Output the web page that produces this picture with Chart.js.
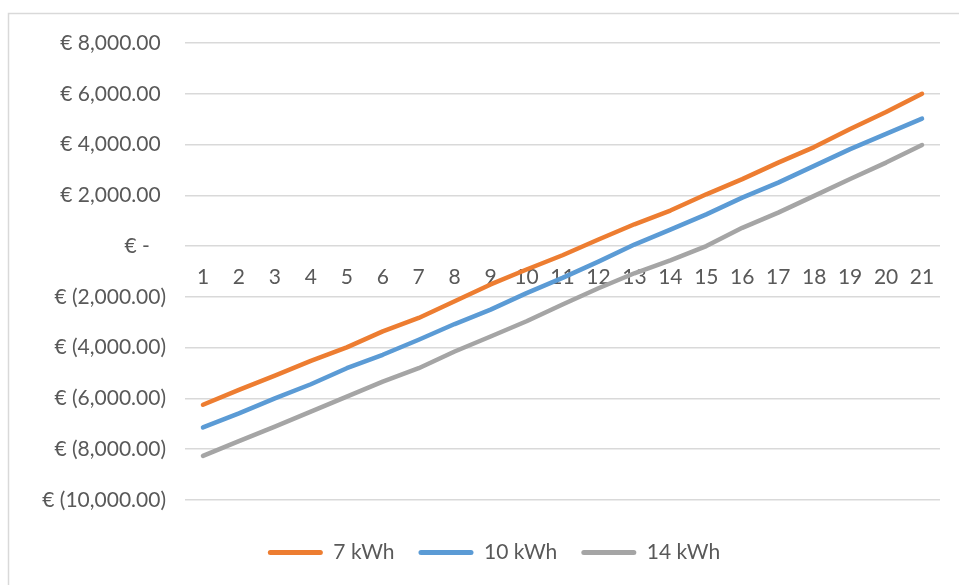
<!DOCTYPE html>
<html>
<head>
<meta charset="utf-8">
<script src="https://cdn.jsdelivr.net/npm/chart.js@4.4.1/dist/chart.umd.min.js"></script>
<style>
  html, body { margin: 0; padding: 0; background: #ffffff; }
  #wrap { position: relative; width: 959px; height: 585px; }
</style>
</head>
<body>
<div id="wrap"><canvas id="c" width="959" height="585"></canvas></div>
<script>
const categories = ['1','2','3','4','5','6','7','8','9','10','11','12','13','14','15','16','17','18','19','20','21'];
const seriesNames = ['7 kWh', '10 kWh', '14 kWh'];
const values7 = [-6250, -5660, -5100, -4520, -3990, -3360, -2830, -2170, -1510, -920, -360, 260, 860, 1400, 2040, 2640, 3290, 3900, 4610, 5280, 6000];
const values10 = [-7140, -6590, -6000, -5440, -4810, -4280, -3690, -3070, -2500, -1850, -1250, -610, 60, 650, 1250, 1910, 2500, 3160, 3820, 4420, 5020];
const values14 = [-8260, -7680, -7110, -6520, -5930, -5340, -4810, -4150, -3560, -2960, -2300, -1660, -1070, -560, 0, 720, 1320, 1980, 2640, 3290, 3980];
const yTickValues = [8000, 6000, 4000, 2000, 0, -2000, -4000, -6000, -8000, -10000];
const yTickLabels = ['€ 8,000.00 ', '€ 6,000.00 ', '€ 4,000.00 ', '€ 2,000.00 ', '€ -   ', '€ (2,000.00)', '€ (4,000.00)', '€ (6,000.00)', '€ (8,000.00)', '€ (10,000.00)'];
const colors = ['#ED7D31', '#5B9BD5', '#A5A5A5'];

const textColor = '#595959';
const fontFamily = 'Lato, "Open Sans", sans-serif';

const frame = {
  id: 'frame',
  beforeDraw(chart) {
    const ctx = chart.ctx;
    ctx.save();
    ctx.fillStyle = '#ffffff';
    ctx.fillRect(0, 0, chart.width, chart.height);
    ctx.strokeStyle = '#d9d9d9';
    ctx.lineWidth = 1.5;
    ctx.strokeRect(8.5, 13.5, 965, 590);
    ctx.restore();
  }
};

const legendShift = {
  id: 'legendShift',
  afterLayout(chart) {
    if (chart.legend) {
      chart.legend.left += 48;
    }
  }
};

const allSeries = [values7, values10, values14];

new Chart(document.getElementById('c'), {
  type: 'line',
  data: {
    labels: categories,
    datasets: allSeries.map((vals, i) => ({
      label: seriesNames[i],
      data: vals,
      borderColor: colors[i],
      backgroundColor: colors[i],
      borderWidth: 4.5,
      pointRadius: 0,
      pointHoverRadius: 0,
      tension: 0,
      borderCapStyle: 'round',
      borderJoinStyle: 'round',
      fill: false
    }))
  },
  options: {
    responsive: false,
    animation: false,
    devicePixelRatio: 1,
    layout: { padding: { left: 0, right: 19, top: 43, bottom: 12 } },
    scales: {
      x: {
        type: 'category',
        position: { y: 0 },
        offset: true,
        grid: { display: false, drawTicks: false },
        border: { display: false },
        ticks: {
          color: textColor,
          font: { family: fontFamily, size: 21 },
          padding: 19,
          maxRotation: 0,
          minRotation: 0,
          autoSkip: false
        }
      },
      y: {
        min: -10000,
        max: 8000,
        afterBuildTicks(scale) {
          scale.ticks = yTickValues.map(v => ({ value: v }));
        },
        afterFit(scale) { scale.width = 185; },
        grid: { color: '#d9d9d9', lineWidth: 1.5, drawTicks: false },
        border: { display: false },
        ticks: {
          color: textColor,
          font: { family: fontFamily, size: 21 },
          padding: 19,
          callback(value) {
            const idx = yTickValues.indexOf(value);
            return idx >= 0 ? yTickLabels[idx] : '';
          }
        }
      }
    },
    plugins: {
      tooltip: { enabled: false },
      legend: {
        position: 'bottom',
        title: { display: true, text: '', font: { size: 10 }, padding: { top: 3, bottom: 3 } },
        labels: {
          color: textColor,
          font: { family: fontFamily, size: 21 },
          boxWidth: 55,
          boxHeight: 5,
          padding: 24,
          useBorderRadius: true,
          borderRadius: 2.5,
          generateLabels(chart) {
            return chart.data.datasets.map((ds, i) => ({
              text: ds.label,
              fillStyle: ds.borderColor,
              strokeStyle: ds.borderColor,
              lineWidth: 0,
              fontColor: textColor,
              hidden: false,
              datasetIndex: i,
              borderRadius: 2.5
            }));
          }
        }
      }
    }
  },
  plugins: [frame, legendShift]
});
</script>
</body>
</html>
